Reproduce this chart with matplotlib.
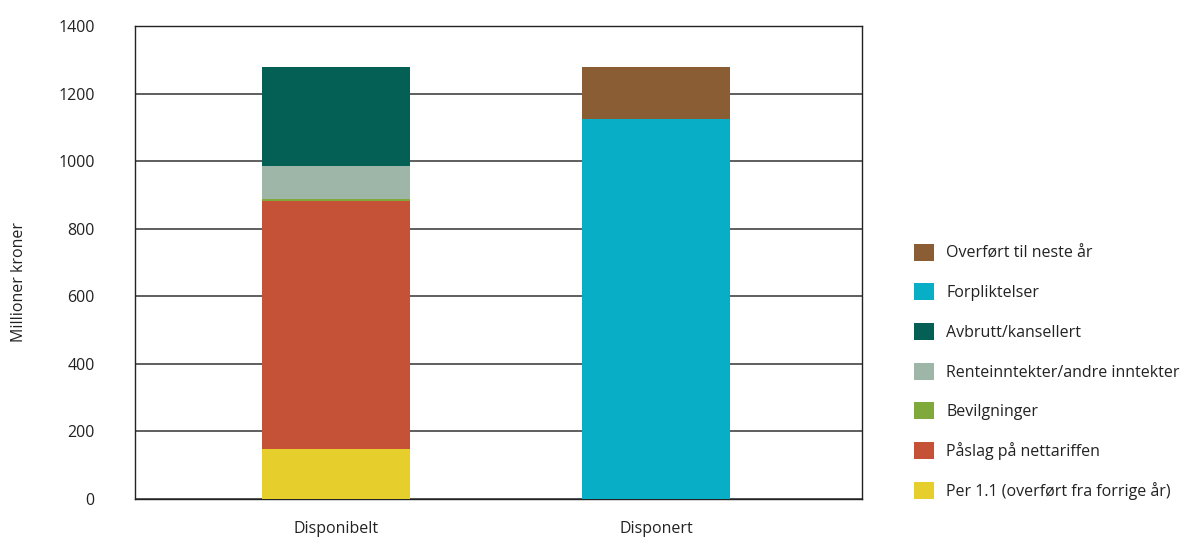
import matplotlib.pyplot as plt
from matplotlib.patches import Patch

plt.rcParams['font.family'] = ['Open Sans', 'DejaVu Sans']

# Data (millioner kroner)
kategorier = ['Disponibelt', 'Disponert']
per_1_1 = [148, 0]
paaslag = [733, 0]
bevilgninger = [8, 0]
renteinntekter = [98, 0]
avbrutt = [293, 0]
forpliktelser = [0, 1126]
overfort = [0, 154]

serier = [
    ('Per 1.1 (overført fra forrige år)', per_1_1, '#E6CE2C'),
    ('Påslag på nettariffen', paaslag, '#C55236'),
    ('Bevilgninger', bevilgninger, '#7FA93B'),
    ('Renteinntekter/andre inntekter', renteinntekter, '#9DB6A8'),
    ('Avbrutt/kansellert', avbrutt, '#045F55'),
    ('Forpliktelser', forpliktelser, '#08AEC5'),
    ('Overført til neste år', overfort, '#8A5D34'),
]

fig = plt.figure(figsize=(11.84, 5.38), dpi=100)
ax = fig.add_axes([0.114, 0.0725, 0.614, 0.879])

# Stablede søyler
x = list(range(len(kategorier)))
bunn = [0, 0]
for navn, verdier, farge in serier:
    ax.bar(x, verdier, bottom=bunn, width=0.4625, color=farge, zorder=3)
    bunn = [b + v for b, v in zip(bunn, verdier)]

ax.set_xlim(-0.628, 1.644)
ax.set_ylim(0, 1400)
ax.set_yticks(range(0, 1401, 200))
ax.set_xticks(x)
ax.set_xticklabels(kategorier)
ax.tick_params(length=0, labelsize=11.5, colors='#222222')
ax.tick_params(axis='y', pad=29)
ax.tick_params(axis='x', pad=16)
ax.yaxis.grid(True, color='#333333', linewidth=1.1, zorder=0)
ax.set_axisbelow(True)
for s in ax.spines.values():
    s.set_color('#222222')
    s.set_linewidth(1.0)

ax.set_ylabel('Millioner kroner', fontsize=11.5, color='#222222')
ax.yaxis.set_label_coords(-0.1486, 0.459)

# Legende i omvendt rekkefølge
handles = [Patch(facecolor=f, edgecolor='none', label=n) for n, v, f in serier[::-1]]
fig.legend(handles=handles, loc='upper left', bbox_to_anchor=(0.7655, 0.562),
           frameon=False, fontsize=11.5, handlelength=1.25, handleheight=1.25,
           handletextpad=0.75, labelspacing=1.37, borderpad=0, labelcolor='#222222')

plt.savefig('out.png', dpi=100)
